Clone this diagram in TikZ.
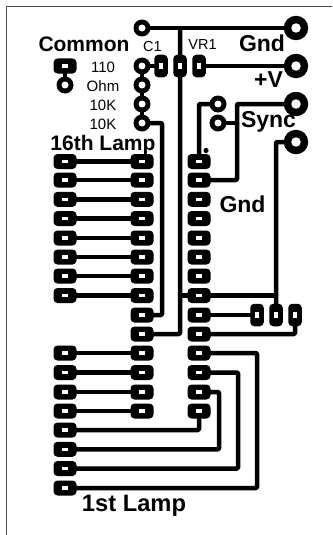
\documentclass[tikz,border=0pt]{standalone}
\usepackage{fontspec}
\setmainfont{Liberation Sans}
\begin{document}
\begin{tikzpicture}[x=1pt,y=-1pt,
 track/.style={line width=4.5pt,line join=round,line cap=round,draw=black,rounded corners=1pt},
 frameline/.style={line width=1.3pt,draw=black!70},
 hpad/.style={fill=black,rounded corners=4pt,minimum width=23pt,minimum height=15pt,inner sep=0pt,outer sep=0pt},
 vpad/.style={fill=black,rounded corners=4pt,minimum width=13.5pt,minimum height=22.5pt,inner sep=0pt,outer sep=0pt},
 spad/.style={circle,fill=black,minimum size=17pt,inner sep=0pt,outer sep=0pt},
 bpad/.style={circle,fill=black,minimum size=24.5pt,inner sep=0pt,outer sep=0pt},
 hslot/.style={fill=white,minimum width=6pt,minimum height=3.4pt,inner sep=0pt,outer sep=0pt},
 vslot/.style={fill=white,minimum width=3.4pt,minimum height=6pt,inner sep=0pt,outer sep=0pt},
 shole/.style={circle,fill=white,minimum size=7pt,inner sep=0pt,outer sep=0pt},
 bhole/.style={circle,fill=white,minimum size=9.5pt,inner sep=0pt,outer sep=0pt},
 lab/.style={inner sep=0pt,anchor=base,font=\fontsize{15}{15}\selectfont},
 blab/.style={inner sep=0pt,anchor=base,font=\fontsize{23}{23}\selectfont\bfseries}]
\useasboundingbox (0,0) rectangle (332,535);
\fill[white] (0,0) rectangle (332,535);
\coordinate (fa) at (6.5,535);
\coordinate (fb) at (6.5,6.5);
\coordinate (fc) at (332,6.5);
\draw[frameline] (fa) -- (fb) -- (fc);
% pads
\foreach \n/\y in {1/161.5,2/180,3/199.3,4/218.5,5/238,6/257,7/276,8/295.5,9/315,10/334,11/353,12/372.5,13/392,14/411,15/430,16/449.3,17/468.5,18/488}{
 \ifnum\n<9 \node[hpad] (L\n) at (65,\y) {};\fi
 \ifnum\n>10 \node[hpad] (L\n) at (65,\y) {};\fi
 \ifnum\n<15 \node[hpad] (M\n) at (142,\y) {}; \node[hpad] (R\n) at (199,\y) {};\fi
}
\node[spad] (St) at (142,28) {};
\foreach \n/\p in {a/66,b/85,c/104,d/123}{\node[spad] (S\n) at (142,\p) {};}
\node[vpad] (Cb) at (161,66) {};
\node[vpad] (Cc) at (180,66) {};
\node[vpad] (Cd) at (199,66) {};
\node[bpad] (Ga) at (296,28) {};
\node[bpad] (Gb) at (296,66) {};
\node[bpad] (Gc) at (296,104) {};
\node[bpad] (Gd) at (296,142) {};
\node[spad] (Ea) at (218,104) {};
\node[spad] (Eb) at (218,123) {};
\node[vpad] (Fa) at (257,315) {};
\node[vpad] (Fb) at (276,315) {};
\node[vpad] (Fc) at (295,315) {};
\node[hpad] (Ka) at (65,66) {};
\node[spad] (Kb) at (65,85) {};
\fill (206,150.5) circle (2.6);
% routing columns
\coordinate (x162) at (162,0);
\coordinate (x219) at (219,0);
\coordinate (x237) at (237,0);
\coordinate (x238) at (238,0);
\coordinate (x257) at (257,0);
\coordinate (sj) at (180,295.5);
\coordinate (se) at (276,295.5);
% tracks
\foreach \n in {1,...,8,11,12,13,14}{\draw[track] (L\n.center) -- (M\n.center);}
\draw[track] (St.center) -- (Ga.center);
\draw[track] (St.center -| Cc.center) -- (M10.center -| Cc.center) -- (M10.center);
\draw[track] (Cd.center) -- (Gb.center);
\draw[track] (Sa.center) -- (Sd.center);
\draw[track] (Sa.center) -- (Cb.center);
\draw[track] (Sd.center) -- (Sd.center -| x162) -- (M9.center -| x162) -- (M9.center);
\draw[track] (Ka.center) -- (Kb.center);
\draw[track] (R1.center) -- (Ea.center -| R1.center) -- (Ea.center);
\draw[track] (Eb.center) -- (Eb.center -| x237);
\draw[track] (Gc.center) -- (Gc.center -| x237) -- (R2.center -| x237) -- (R2.center);
\draw[track] (Gd.center) -- (Gd.center -| Fb.center) -- (Fb.center);
\draw[track] (sj) -- (se);
\draw[track] (R9.center) -- (Fa.center);
\draw[track] (R10.center) -- (R10.center -| Fc.center) -- (Fc.center);
\draw[track] (R11.center) -- (R11.center -| x257) -- (L18.center -| x257) -- (L18.center);
\draw[track] (R12.center) -- (R12.center -| x238) -- (L17.center -| x238) -- (L17.center);
\draw[track] (R13.center) -- (R13.center -| x219) -- (L16.center -| x219) -- (L16.center);
\draw[track] (R14.center) -- (L15.center -| R14.center) -- (L15.center);
% holes
\foreach \n in {1,...,8,11,12,...,18}{\node[hslot] (hL\n) at (L\n.center) {};}
\foreach \n in {1,...,14}{\node[hslot] (hM\n) at (M\n.center) {}; \node[hslot] (hR\n) at (R\n.center) {};}
\node[hslot] (hKa) at (Ka.center) {};
\foreach \m in {Cb,Cc,Cd,Fa,Fb,Fc}{\node[vslot] (h\m) at (\m.center) {};}
\foreach \m in {St,Sa,Sb,Sc,Sd,Ea,Eb,Kb}{\node[shole] (h\m) at (\m.center) {};}
\foreach \m in {Ga,Gb,Gc,Gd}{\node[bhole] (h\m) at (\m.center) {};}
% labels
\node[blab,font=\fontsize{21}{21}\selectfont\bfseries] (tCommon) at (84,52) {Common};
\node[lab] (t110) at (103,73) {110};
\node[lab] (tOhm) at (103,91.5) {Ohm};
\node[lab] (tTenA) at (103,110.5) {10K};
\node[lab] (tTenB) at (103,129.5) {10K};
\node[lab,font=\fontsize{14.5}{14.5}\selectfont] (tC) at (152.5,52) {C1};
\node[lab,font=\fontsize{14.5}{14.5}\selectfont] (tVR) at (202.5,50) {VR1};
\node[blab] (tGnd) at (262,52) {Gnd};
\node[blab] (tV) at (268.5,88) {+V};
\node[blab] (tSync) at (268.5,127) {Sync};
\node[blab] (tGndB) at (242.5,212) {Gnd};
\node[blab,font=\fontsize{21}{21}\selectfont\bfseries] (tSix) at (103,150) {16th Lamp};
\node[blab,font=\fontsize{23.7}{23.7}\selectfont\bfseries] (tFirst) at (134,511.5) {1st Lamp};
\end{tikzpicture}
\end{document}
